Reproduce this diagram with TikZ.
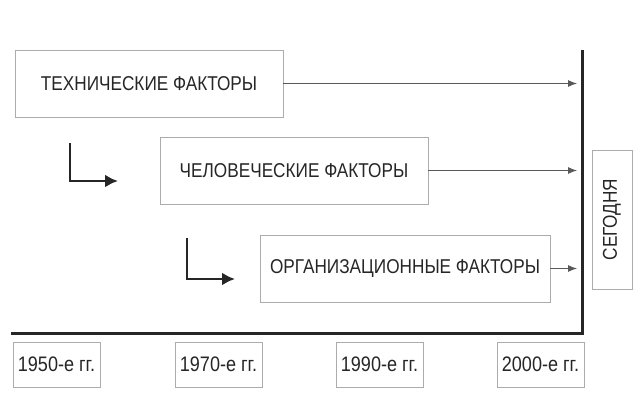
\documentclass[tikz,border=0pt]{standalone}
\usepackage{fontspec}
\setmainfont{Liberation Sans}[FakeStretch=0.86]
\usetikzlibrary{arrows.meta}
\begin{document}
\begin{tikzpicture}[x=1pt, y=-1pt,
  factor/.style={draw=gray!65, line width=0.9pt, minimum width=#1, minimum height=67pt,
    inner sep=0pt, font=\fontsize{20}{20}\selectfont, text=black!85},
  period/.style={draw=gray!65, line width=0.9pt, minimum width=87pt, minimum height=45pt,
    inner sep=0pt, font=\fontsize{21}{21}\selectfont, text=black!85},
  feed/.style={draw=black!65, line width=0.9pt, -{Latex[length=9pt,width=7pt]}},
  turn/.style={draw=black!85, line width=2.7pt, -{Latex[length=13pt,width=13pt]}},
  axis/.style={draw=black!85, line width=3pt}]
\useasboundingbox (0,0) rectangle (634,415);
% factor boxes
\node[factor=268pt] (tech) at (149,83.5) {ТЕХНИЧЕСКИЕ ФАКТОРЫ};
\node[factor=268pt] (human) at (294,170.5) {ЧЕЛОВЕЧЕСКИЕ ФАКТОРЫ};
\node[factor=290pt] (org) at (405,268.5) {ОРГАНИЗАЦИОННЫЕ ФАКТОРЫ};
\node[factor=139pt, minimum height=40pt, rotate=90] (today) at (612,219.5) {СЕГОДНЯ};
% time axis
\coordinate (top) at (582,50);
\coordinate (corner) at (582,333);
\coordinate (start) at (11,333);
\draw[axis] (top) -- (corner) -- (start);
\draw[feed] (tech.east) -- ([xshift=-5pt]tech.east -| top);
\draw[feed] (human.east) -- ([xshift=-5pt]human.east -| top);
\draw[feed] (org.east) -- ([xshift=-5pt]org.east -| top);
% turning arrows
\coordinate (t1) at (70,143);
\coordinate (t1e) at (118,181);
\coordinate (t2) at (187,238);
\coordinate (t2e) at (235,279);
\draw[turn] (t1) |- (t1e);
\draw[turn] (t2) |- (t2e);
% periods
\node[period] (p50) at (56.5,364.5) {1950-е гг.};
\node[period] (p70) at (218.5,364.5) {1970-е гг.};
\node[period] (p90) at (379.5,364.5) {1990-е гг.};
\node[period] (p00) at (540.5,364.5) {2000-е гг.};
\end{tikzpicture}
\end{document}
